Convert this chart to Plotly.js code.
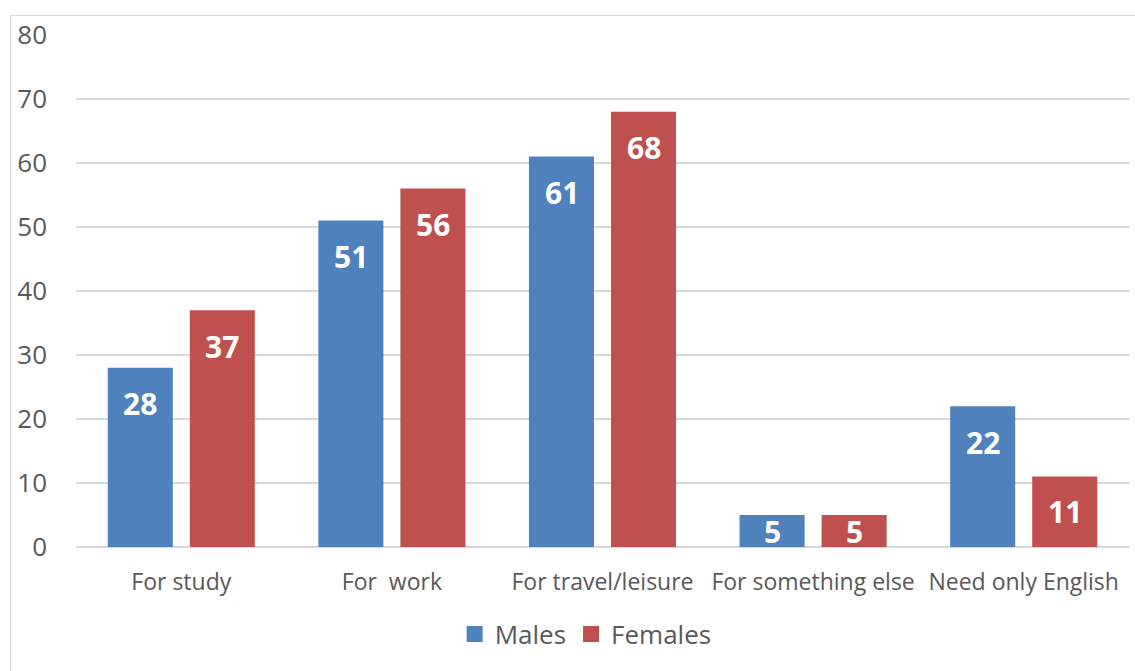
<!DOCTYPE html>
<html>
<head>
<meta charset="utf-8">
<script src="https://cdn.plot.ly/plotly-3.0.1.min.js"></script>
<style>
  html, body { margin: 0; padding: 0; background: #fff; }
  #wrap { position: relative; width: 1135px; height: 671px; overflow: hidden; }
  #frame { position: absolute; left: 10px; top: 15px; width: 1140px; height: 670px; border: 1.5px solid #d9d9d9; box-sizing: border-box; pointer-events: none; }
  #chart { position: absolute; left: 0; top: 0; width: 1135px; height: 671px; }
</style>
</head>
<body>
<div id="wrap">
  <div id="chart"></div>
  <div id="frame"></div>
</div>
<script>
const categories = ["For study", "For  work", "For travel/leisure", "For something else", "Need only English"];
const seriesNames = ["Males", "Females"];
const males = [28, 51, 61, 5, 22];
const females = [37, 56, 68, 5, 11];
const yTicks = [0, 10, 20, 30, 40, 50, 60, 70, 80];

const BLUE = "#4F81BD";
const RED = "#C0504D";
const FONT = "'Open Sans', sans-serif";

const traces = [
  { type: "bar", name: seriesNames[0], x: categories, y: males, marker: { color: BLUE }, hoverinfo: "none", showlegend: false },
  { type: "bar", name: seriesNames[1], x: categories, y: females, marker: { color: RED }, hoverinfo: "none", showlegend: false },
  // legend entries (larger square swatches)
  { type: "scatter", mode: "markers", name: seriesNames[0], x: [null], y: [null],
    marker: { symbol: "square", size: 16, color: BLUE }, hoverinfo: "none", showlegend: true },
  { type: "scatter", mode: "markers", name: seriesNames[1], x: [null], y: [null],
    marker: { symbol: "square", size: 16, color: RED }, hoverinfo: "none", showlegend: true }
];

const plotH = 512, yMax = 80;
const pxPerUnit = plotH / yMax;
const annotations = [];
function addLabels(vals, shift) {
  vals.forEach((v, i) => {
    annotations.push({
      x: categories[i], y: v, xref: "x", yref: "y",
      text: "<b>" + v + "</b>", showarrow: false,
      xanchor: "center", yanchor: "middle",
      xshift: shift, yshift: -Math.min(36, v * pxPerUnit / 2),
      font: { family: FONT, size: 30, color: "#ffffff" }
    });
  });
}
addLabels(males, -41);
addLabels(females, 41);

const layout = {
  width: 1135, height: 671,
  margin: { l: 76, r: 6, t: 35, b: 124 },
  paper_bgcolor: "rgba(0,0,0,0)", plot_bgcolor: "#fff",
  barmode: "group", bargap: 0.221, bargroupgap: 0.207,
  font: { family: FONT, color: "#595959" },
  xaxis: {
    type: "category", showgrid: false, zeroline: false, showline: false,
    ticks: "", tickfont: { size: 23, color: "#595959" }, ticklabelstandoff: 19
  },
  yaxis: {
    range: [0, yMax], tickvals: yTicks, ticktext: yTicks.map(String),
    showgrid: true, gridcolor: "#d9d9d9", gridwidth: 1.5,
    zeroline: true, zerolinecolor: "#d9d9d9", zerolinewidth: 1.5,
    showline: false, ticks: "", tickfont: { size: 26, color: "#595959" },
    ticklabelstandoff: 28
  },
  showlegend: true,
  legend: {
    orientation: "h", x: 0.484, xanchor: "center", y: -0.17, yanchor: "middle",
    font: { size: 26, color: "#595959" }, itemsizing: "trace", itemwidth: 30
  },
  annotations: annotations
};

Plotly.newPlot("chart", traces, layout, { displayModeBar: false, staticPlot: true });
</script>
</body>
</html>
